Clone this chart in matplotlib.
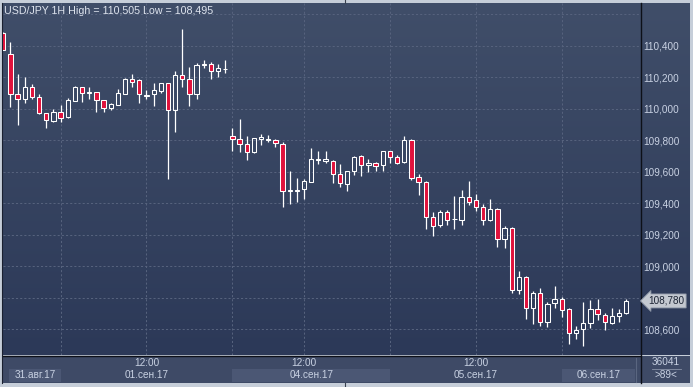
import matplotlib.pyplot as plt
import matplotlib.transforms as mtransforms
from matplotlib.patches import Rectangle
import numpy as np

# hourly USD/JPY candles, 31 Aug 16:00 .. 06 Sep 09:00
open_ = [110.479, 110.347, 110.092, 110.064, 110.140, 110.076, 109.971, 109.924, 109.977, 109.946,
         110.051, 110.136, 110.102, 110.104, 110.053, 110.003, 110.026, 110.095, 110.187, 110.180,
         110.083, 110.092, 110.114, 110.161, 109.992, 110.212, 110.187, 110.092, 110.276, 110.282,
         110.239, 110.250,
         109.825, 109.806, 109.774, 109.727, 109.810, 109.803, 109.800, 109.774, 109.478, 109.478,
         109.489, 109.537, 109.676, 109.668, 109.666, 109.584, 109.520, 109.603, 109.698, 109.641,
         109.654, 109.641, 109.730, 109.692, 109.664, 109.800, 109.565, 109.535, 109.315, 109.262,
         109.343, 109.298, 109.296, 109.438, 109.419, 109.374, 109.296, 109.362, 109.170, 109.241,
         108.849, 108.934, 108.733, 108.828, 108.648, 108.765, 108.794, 108.727, 108.575, 108.600,
         108.642, 108.727, 108.693, 108.642, 108.686, 108.705]
high = [110.485, 110.425, 110.220, 110.199, 110.157, 110.093, 109.975, 109.998, 110.022, 110.066,
        110.144, 110.140, 110.136, 110.108, 110.055, 110.038, 110.123, 110.193, 110.220, 110.187,
        110.119, 110.161, 110.165, 110.165, 110.241, 110.505, 110.263, 110.292, 110.309, 110.298,
        110.284, 110.307,
        109.878, 109.935, 109.827, 109.816, 109.841, 109.835, 109.810, 109.787, 109.605, 109.560,
        109.556, 109.751, 109.732, 109.732, 109.675, 109.649, 109.607, 109.698, 109.706, 109.679,
        109.662, 109.732, 109.734, 109.704, 109.827, 109.806, 109.586, 109.541, 109.345, 109.357,
        109.357, 109.446, 109.484, 109.541, 109.459, 109.395, 109.427, 109.370, 109.256, 109.251,
        108.970, 108.938, 108.843, 108.860, 108.775, 108.875, 108.803, 108.733, 108.623, 108.771,
        108.784, 108.792, 108.702, 108.733, 108.729, 108.790]
low = [110.370, 110.013, 109.897, 110.038, 110.060, 109.967, 109.876, 109.918, 109.918, 109.944,
       110.049, 110.041, 110.062, 109.981, 109.979, 109.992, 110.022, 110.092, 110.140, 110.034,
       110.064, 110.017, 110.102, 109.556, 109.854, 110.136, 110.017, 110.064, 110.257, 110.191,
       110.203, 110.229,
       109.734, 109.727, 109.675, 109.717, 109.770, 109.787, 109.757, 109.378, 109.395, 109.410,
       109.429, 109.533, 109.649, 109.657, 109.530, 109.505, 109.480, 109.581, 109.573, 109.600,
       109.607, 109.607, 109.654, 109.647, 109.657, 109.548, 109.452, 109.239, 109.194, 109.249,
       109.262, 109.239, 109.262, 109.391, 109.353, 109.262, 109.289, 109.124, 109.116, 108.828,
       108.824, 108.667, 108.632, 108.623, 108.617, 108.737, 108.680, 108.505, 108.537, 108.495,
       108.606, 108.659, 108.594, 108.634, 108.644, 108.695]
close = [110.373, 110.092, 110.060, 110.136, 110.076, 109.971, 109.928, 109.979, 109.939, 110.055,
         110.138, 110.098, 110.106, 110.055, 110.003, 110.032, 110.098, 110.187, 110.172, 110.092,
         110.089, 110.117, 110.161, 109.992, 110.212, 110.187, 110.092, 110.276, 110.284, 110.239,
         110.257, 110.254,
         109.806, 109.774, 109.727, 109.812, 109.821, 109.808, 109.781, 109.476, 109.484, 109.484,
         109.541, 109.679, 109.681, 109.681, 109.584, 109.527, 109.603, 109.692, 109.641, 109.655,
         109.635, 109.730, 109.692, 109.657, 109.800, 109.562, 109.533, 109.315, 109.258, 109.343,
         109.296, 109.300, 109.438, 109.410, 109.378, 109.296, 109.362, 109.170, 109.241, 108.849,
         108.934, 108.733, 108.828, 108.644, 108.759, 108.794, 108.722, 108.575, 108.594, 108.638,
         108.727, 108.695, 108.644, 108.683, 108.702, 108.780]

grid_idx = [8, 20, 32, 42, 54, 66, 78]
time_labels = ["", "12:00", "", "12:00", "", "12:00", ""]
day_labels = ["31.авг.17", "01.сен.17", "04.сен.17", "05.сен.17", "06.сен.17"]
day_start = [0.8, 8, 32, 54, 78]
day_end = [8, 32, 54, 78, 88.2]
day_shaded = [True, False, True, False, True]
price_ticks = [108.6, 108.8, 109.0, 109.2, 109.4, 109.6, 109.8, 110.0, 110.2, 110.4, 110.6]
hidden_ticks = [108.8, 110.6]

W, H = 693, 387
RED = "#e0123c"
GRID = "#56627d"
TXT = "#c9d2e3"
FONT = "Liberation Sans"

fig = plt.figure(figsize=(W / 100, H / 100), dpi=100)
fig.patch.set_facecolor("#c6ced9")

# pixel overlay for the frame
bg = fig.add_axes([0, 0, 1, 1], zorder=0)
bg.set_xlim(0, W)
bg.set_ylim(H, 0)
bg.axis("off")

grad = np.linspace(0, 1, 256).reshape(-1, 1)
top_c = np.array([64, 78, 105]) / 255
bot_c = np.array([44, 57, 88]) / 255
img = top_c + (bot_c - top_c) * grad[:, :, None]
bg.imshow(img, extent=[3, 690, 355, 3], aspect="auto", interpolation="bilinear", zorder=0)
bg.set_xlim(0, W)
bg.set_ylim(H, 0)

bg.add_patch(Rectangle((3, 356), 687, 27, fc="#3e4a66", ec="none", zorder=1))
bg.plot([2, 2], [3, 383], color="#1a2030", lw=0.8, zorder=3)
bg.plot([3, 640], [355.5, 355.5], color="#0d1018", lw=1.0, zorder=3)
bg.plot([640.5, 640.5], [3, 383], color="#0d1018", lw=1.0, zorder=3)
bg.plot([635.5, 635.5], [358, 382], color="#5a6680", lw=0.8, zorder=3)
bg.plot([345, 345], [0, 3], color="#3a4250", lw=0.8, zorder=3)
bg.plot([345, 345], [383, 387], color="#3a4250", lw=0.8, zorder=3)

# main chart axes
x0, x1 = -0.04, 88.92
y_top = 110.4 + (45.7 - 3) / 157.56
y_bot = 110.4 - (355 - 45.7) / 157.56
ax = fig.add_axes([3 / W, (H - 355) / H, 637 / W, 352 / H], zorder=2)
ax.patch.set_visible(False)
ax.set_xlim(x0, x1)
ax.set_ylim(y_bot, y_top)
for s in ax.spines.values():
    s.set_visible(False)

ax.set_yticks(price_ticks)
ax.set_yticklabels(["" if t in hidden_ticks else f"{t:.3f}".replace(".", ",") for t in price_ticks])
ax.yaxis.tick_right()
ax.tick_params(axis="y", length=0, pad=2.5, labelsize=7.2, labelcolor=TXT)
for lab in ax.get_yticklabels():
    lab.set_fontfamily(FONT)
ax.set_xticks([])
ax.grid(axis="y", color=GRID, linestyle=(0, (2, 2)), linewidth=0.75)
for g in grid_idx:
    ax.axvline(g, color=GRID, linestyle=(0, (2, 2)), linewidth=0.75, zorder=1)

o = np.array(open_)
h = np.array(high)
l = np.array(low)
c = np.array(close)
x = np.arange(len(o))
top = np.maximum(o, c)
bot = np.minimum(o, c)
down = c < o

ax.vlines(x, top, h, color="white", lw=0.9, zorder=3)
ax.vlines(x, l, bot, color="white", lw=0.9, zorder=3)
ax.bar(x[down], (top - bot)[down], bottom=bot[down], width=0.6,
       facecolor=RED, edgecolor="white", linewidth=0.75, zorder=4)
ax.bar(x[~down], (top - bot)[~down], bottom=bot[~down], width=0.6,
       facecolor="none", edgecolor="white", linewidth=0.75, zorder=4)

# title
bg.text(4, 11, f"USD/JPY 1H High = {h.max():.3f} Low = {l.min():.3f}".replace(".", ","),
        color="#dfe5ef", fontsize=7.7, family=FONT, va="center", ha="left", zorder=5)

# time axis labels
tx = mtransforms.blended_transform_factory(ax.transData, bg.transData)
for s, e, sh, lab in zip(day_start, day_end, day_shaded, day_labels):
    if sh:
        bg.add_patch(Rectangle((s, 369), e - s, 13, transform=tx, fc="#4b5774", ec="none", zorder=2))
    bg.text((s + e) / 2, 375, lab, transform=tx, color=TXT, fontsize=7.2, family=FONT,
            ha="center", va="center", zorder=5)
for g, lab in zip(grid_idx, time_labels):
    if lab:
        bg.text(g, 363.5, lab, transform=tx, color=TXT, fontsize=7.2, family=FONT,
                ha="center", va="center", zorder=5)

# last price tag
ty = mtransforms.blended_transform_factory(bg.transData, ax.transData)
ax.text(648, c[-1], f"{c[-1]:.3f}".replace(".", ","), transform=ty, color="#1c2434",
        fontsize=7.2, family=FONT, ha="left", va="center", zorder=6, clip_on=False,
        bbox=dict(boxstyle="larrow,pad=0.2", fc="#c3c8d0", ec="#8d96a6", lw=0.6))

# info box
bg.text(666, 362, "36041", color=TXT, fontsize=7.2, family=FONT, ha="center", va="center", zorder=5)
bg.plot([652, 681], [368.5, 368.5], color="#8a94a8", lw=0.6, zorder=5)
bg.text(666, 375.5, ">89<", color=TXT, fontsize=7.2, family=FONT, ha="center", va="center", zorder=5)

fig.savefig("out.png", dpi=100, facecolor=fig.get_facecolor())
